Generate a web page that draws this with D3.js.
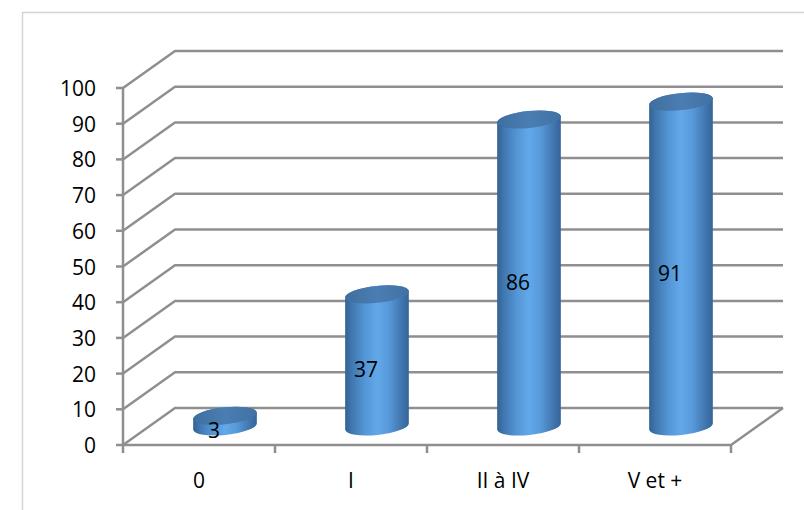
<!DOCTYPE html>
<html>
<head>
<meta charset="utf-8">
<script src="https://cdn.jsdelivr.net/npm/d3@7/dist/d3.min.js"></script>
<style>
  html, body { margin: 0; padding: 0; background: #fff; }
  svg { display: block; }
  text { font-family: "Open Sans", "Liberation Sans", sans-serif; fill: #000; }
</style>
</head>
<body>
<svg id="chart" width="804" height="510"></svg>
<script>
// Chart data
const categories = ["0", "I", "II à IV", "V et +"];
const values = [3, 37, 86, 91];
const yTicks = [0, 10, 20, 30, 40, 50, 60, 70, 80, 90, 100];

const svg = d3.select("#chart");
const fontSize = 21;

// 3D projection: offset of the back wall relative to the front plane
const depthX = 52, depthY = -37;

const y = d3.scaleLinear().domain([0, 100]).range([445, 88]);
const x = d3.scaleBand().domain(categories).range([123, 731]).padding(0);

const gridColor = "#8f8f8f";

// Outer frame of the chart area
svg.append("rect")
  .attr("x", 22.5).attr("y", 12.5)
  .attr("width", 900).attr("height", 700)
  .attr("fill", "none").attr("stroke", "#d4d4d4").attr("stroke-width", 1.5);

// Side wall diagonals + back wall gridlines
const grid = svg.append("g").attr("fill", "none")
  .attr("stroke", gridColor).attr("stroke-width", 2.5)
  .attr("stroke-linejoin", "round");
const x0 = x.range()[0], x1 = x.range()[1];
yTicks.forEach(t => {
  const yy = y(t);
  grid.append("path")
    .attr("d", `M${x0},${yy} L${x0 + depthX},${yy + depthY} L${x1 + depthX},${yy + depthY}`);
});
// Floor front edge and right edge
grid.append("path")
  .attr("d", `M${x0},${y(0)} L${x1},${y(0)} L${x1 + depthX},${y(0) + depthY}`);

// Front vertical axis with tick marks
const axisG = svg.append("g").attr("stroke", gridColor).attr("stroke-width", 2.5);
axisG.append("line").attr("x1", x0).attr("x2", x0).attr("y1", y(100)).attr("y2", y(0));
yTicks.forEach(t => {
  axisG.append("line").attr("x1", x0 - 7).attr("x2", x0).attr("y1", y(t)).attr("y2", y(t));
});
// Category boundary ticks
const bounds = categories.map(c => x(c)).concat([x1]);
bounds.forEach(b => {
  axisG.append("line").attr("x1", b).attr("x2", b).attr("y1", y(0)).attr("y2", y(0) + 8);
});

// Y tick labels
svg.append("g").selectAll("text").data(yTicks).join("text")
  .attr("x", 96).attr("y", d => y(d))
  .attr("text-anchor", "end").attr("dominant-baseline", "central")
  .attr("font-size", fontSize)
  .text(d => d);

// Category labels
svg.append("g").selectAll("text").data(categories).join("text")
  .attr("x", d => x(d) + x.bandwidth() / 2).attr("y", 480)
  .attr("text-anchor", "middle").attr("dominant-baseline", "central")
  .attr("font-size", fontSize)
  .text(d => d);

// Cylinder shading
const defs = svg.append("defs");
const sideGrad = defs.append("linearGradient").attr("id", "cylSide")
  .attr("x1", "0").attr("x2", "1").attr("y1", "0").attr("y2", "0");
[["0%", "#34618f"], ["10%", "#3f77b0"], ["30%", "#5394d4"], ["50%", "#62a9ea"],
 ["68%", "#5899d9"], ["88%", "#4277b0"], ["100%", "#36649a"]]
  .forEach(([o, c]) => sideGrad.append("stop").attr("offset", o).attr("stop-color", c));
const capGrad = defs.append("linearGradient").attr("id", "cylTop")
  .attr("x1", "0").attr("x2", "1").attr("y1", "0").attr("y2", "0");
[["0%", "#3f6f9f"], ["50%", "#4a7db2"], ["100%", "#4172a5"]]
  .forEach(([o, c]) => capGrad.append("stop").attr("offset", o).attr("stop-color", c));

// Cylinders sit halfway into the depth of the floor
const rx = 32, ry = 8.5, tilt = -6;
const tr = tilt * Math.PI / 180;
const ex = rx * Math.cos(tr), ey = rx * Math.sin(tr);

const bars = svg.append("g").selectAll("g")
  .data(categories.map((c, i) => ({ c, v: values[i] })))
  .join("g");

bars.each(function(d) {
  const g = d3.select(this);
  const cx = x(d.c) + x.bandwidth() / 2 + depthX / 2;
  const baseY = y(0) + depthY / 2;
  const topY = y(d.v) + depthY / 2;
  const body = `M${cx - ex},${topY - ey} L${cx - ex},${baseY - ey}` +
    ` A${rx},${ry} ${tilt} 0 0 ${cx + ex},${baseY + ey}` +
    ` L${cx + ex},${topY + ey}` +
    ` A${rx},${ry} ${tilt} 0 0 ${cx - ex},${topY - ey} Z`;
  g.append("path").attr("d", body).attr("fill", "url(#cylSide)");
  g.append("ellipse")
    .attr("cx", cx).attr("cy", topY).attr("rx", rx).attr("ry", ry)
    .attr("transform", `rotate(${tilt},${cx},${topY})`)
    .attr("fill", "url(#cylTop)");
  // Value label
  g.append("text")
    .attr("x", cx - 11).attr("y", (baseY + topY) / 2 + 9)
    .attr("text-anchor", "middle").attr("dominant-baseline", "central")
    .attr("font-size", fontSize)
    .text(d.v);
});
</script>
</body>
</html>
